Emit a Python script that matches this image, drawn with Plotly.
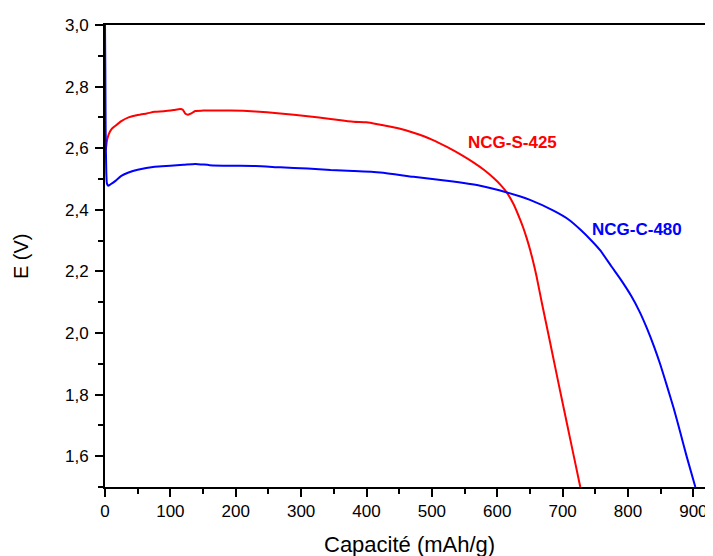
import plotly.graph_objects as go

# NCG-S-425 (red)
s425_x = [0, 0.5, 1.5, 3, 5.8, 10, 16, 25, 36, 50, 64, 76, 90, 105, 115, 119, 123, 127, 132, 138,
          150, 192, 230, 268, 310, 345, 380, 400, 421, 450, 472, 500, 523, 545, 564, 580, 594.5,
          605, 615, 625, 635, 640, 645, 650, 655.6, 660, 668.5, 680, 689, 698, 707, 717, 727]
s425_y = [2.70, 2.592, 2.60, 2.625, 2.646, 2.662, 2.673, 2.688, 2.70, 2.708, 2.713, 2.718, 2.72,
          2.724, 2.727, 2.725, 2.712, 2.709, 2.713, 2.721, 2.722, 2.722, 2.719, 2.713, 2.704,
          2.695, 2.686, 2.684, 2.676, 2.664, 2.650, 2.628, 2.604, 2.578, 2.553, 2.529, 2.503,
          2.481, 2.455, 2.418, 2.368, 2.34, 2.308, 2.272, 2.226, 2.185, 2.095, 1.978, 1.885,
          1.793, 1.702, 1.601, 1.5]

# NCG-C-480 (blue)
c480_x = [0, 0.5, 1, 2, 3, 5, 8, 16, 25, 36, 50, 76, 100, 120, 138, 160, 192, 230, 268, 310, 345,
          380, 421, 472, 523, 574, 615, 650, 686, 710, 727, 745, 757.6, 775, 790, 805, 818, 829,
          840, 849, 860, 870, 880, 890, 903]
c480_y = [3.0, 2.85, 2.65, 2.52, 2.485, 2.478, 2.482, 2.494, 2.51, 2.521, 2.53, 2.540, 2.543,
          2.546, 2.549, 2.545, 2.543, 2.542, 2.538, 2.534, 2.529, 2.526, 2.521, 2.507, 2.494,
          2.478, 2.456, 2.432, 2.397, 2.367, 2.336, 2.298, 2.268, 2.215, 2.17, 2.12, 2.068,
          2.015, 1.955, 1.90, 1.825, 1.755, 1.677, 1.597, 1.5]

labels = ["NCG-S-425", "NCG-C-480"]
label_x = [624, 814]
label_y = [2.619, 2.336]

x_ticks = [0, 100, 200, 300, 400, 500, 600, 700, 800, 900]
y_ticks = [1.6, 1.8, 2.0, 2.2, 2.4, 2.6, 2.8, 3.0]

FONT = "Liberation Sans, Arial"

fig = go.Figure()
fig.add_trace(go.Scatter(x=s425_x, y=s425_y, mode="lines",
                         line=dict(color="#ff0000", width=2, shape="spline", smoothing=0.6),
                         name=labels[0]))
fig.add_trace(go.Scatter(x=c480_x, y=c480_y, mode="lines",
                         line=dict(color="#0000ff", width=2, shape="spline", smoothing=0.6),
                         name=labels[1]))

colors = ["#ff0000", "#0000ff"]
for t, lx, ly, c in zip(labels, label_x, label_y, colors):
    fig.add_annotation(x=lx, y=ly, text="<b>%s</b>" % t, showarrow=False,
                       font=dict(family=FONT, size=17, color=c))

# axis titles (placed in paper coordinates)
fig.add_annotation(xref="paper", yref="paper", x=0.5, y=-0.124, xanchor="center", yanchor="middle",
                   text="Capacité (mAh/g)", showarrow=False, font=dict(family=FONT, size=22, color="black"))
fig.add_annotation(xref="paper", yref="paper", x=-0.138, y=0.5, xanchor="center", yanchor="middle",
                   text="E (V)", textangle=-90, showarrow=False, font=dict(family=FONT, size=20, color="black"))

# page body has an 8px margin: figure is placed at (8, 8)
fig.update_layout(
    width=705, height=548,
    margin=dict(l=96.5, r=0, t=16.5, b=69.3, pad=0),
    paper_bgcolor="white", plot_bgcolor="white",
    showlegend=False,
    separators=",.",
    font=dict(family=FONT, color="black"),
)
fig.update_xaxes(
    range=[0, 930], tickvals=x_ticks, ticks="outside", ticklen=8, tickwidth=2,
    tickcolor="black", showline=True, linecolor="black", linewidth=2, mirror=True,
    showgrid=False, zeroline=False, tickfont=dict(size=17), automargin=False,
    minor=dict(dtick=50, ticks="outside", ticklen=5, tickwidth=2, tickcolor="black", showgrid=False),
)
fig.update_yaxes(
    range=[1.5, 3.0], tickvals=y_ticks, tickformat=".1f", ticks="outside", ticklen=8, tickwidth=2,
    tickcolor="black", showline=True, linecolor="black", linewidth=2,
    showgrid=False, zeroline=False, tickfont=dict(size=17), automargin=False, ticklabelstandoff=3,
    minor=dict(dtick=0.1, ticks="outside", ticklen=5, tickwidth=2, tickcolor="black", showgrid=False),
)

fig.write_html("out.html")
